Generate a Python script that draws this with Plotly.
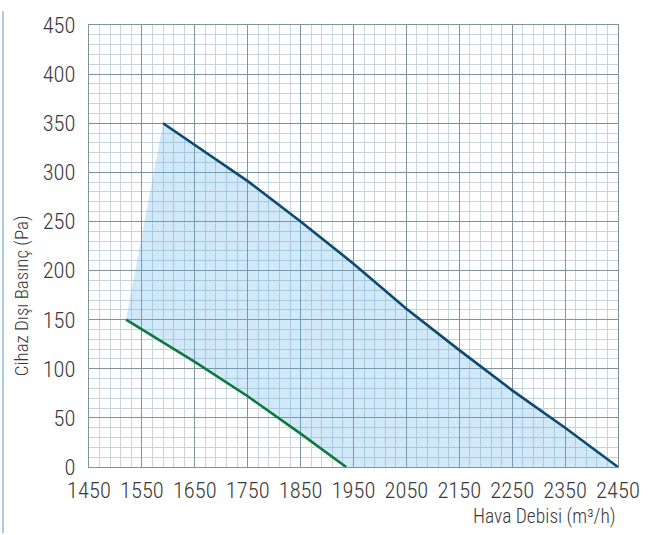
import plotly.graph_objects as go

# Data
upper_x = [1590, 1650, 1750, 1850, 1950, 2050, 2150, 2250, 2350, 2450]
upper_y = [350, 328, 291, 250, 207, 161, 119, 78, 40, 0]
lower_x = [1520, 1650, 1750, 1850, 1936]
lower_y = [150, 107, 72, 34, 0]

x_ticks = [1450, 1550, 1650, 1750, 1850, 1950, 2050, 2150, 2250, 2350, 2450]
y_ticks = [0, 50, 100, 150, 200, 250, 300, 350, 400, 450]

FONT = "Roboto Condensed, Liberation Sans Narrow, sans-serif"
TXT = "#3a3a3a"
MAJOR = "#7d949b"
MINOR = "#c6d4db"

# polygon of operating area built from the two curves
poly_x = lower_x[:1] + upper_x + lower_x[::-1]
poly_y = lower_y[:1] + upper_y + lower_y[::-1]

fig = go.Figure()
fig.add_trace(go.Scatter(
    x=poly_x, y=poly_y, mode="lines", fill="toself",
    fillcolor="rgba(100,180,232,0.30)", line=dict(width=0),
    hoverinfo="skip", showlegend=False))
fig.add_trace(go.Scatter(
    x=upper_x, y=upper_y, mode="lines",
    line=dict(color="#0c4a72", width=2.6), showlegend=False))
fig.add_trace(go.Scatter(
    x=lower_x, y=lower_y, mode="lines",
    line=dict(color="#0b7a3c", width=2.6), showlegend=False))

tickfont = dict(family=FONT, size=22.5, color=TXT, weight=300)

fig.update_layout(
    width=655, height=535,
    margin=dict(l=89, r=37, t=14, b=68),
    paper_bgcolor="white", plot_bgcolor="white",
    font=dict(family=FONT, color=TXT),
    xaxis=dict(
        range=[1450, 2450], tickvals=x_ticks, ticktext=[str(v) for v in x_ticks],
        showgrid=True, gridcolor=MAJOR, gridwidth=1,
        minor=dict(dtick=20, tick0=1450, showgrid=True, gridcolor=MINOR, gridwidth=1),
        showline=True, linecolor=MAJOR, linewidth=1, mirror=True,
        zeroline=False, ticks="", ticklabelstandoff=3,
        tickfont=tickfont,
    ),
    yaxis=dict(
        range=[0, 450], tickvals=y_ticks, ticktext=[str(v) for v in y_ticks],
        showgrid=True, gridcolor=MAJOR, gridwidth=1,
        minor=dict(dtick=10, tick0=0, showgrid=True, gridcolor=MINOR, gridwidth=1),
        showline=True, linecolor=MAJOR, linewidth=1, mirror=True,
        zeroline=False, ticks="", ticklabelstandoff=8,
        tickfont=tickfont,
    ),
    annotations=[
        dict(text="Hava Debisi (m³/h)", xref="paper", yref="paper",
             x=1.0, y=0, xanchor="right", yanchor="top", yshift=-36,
             showarrow=False, font=dict(family=FONT, size=19.5, color=TXT, weight=300)),
        dict(text="Cihaz Dışı Basınç (Pa)", xref="paper", yref="paper",
             x=0, y=(467 - 292) / 453, xanchor="center", yanchor="middle", xshift=-68,
             textangle=-90, showarrow=False,
             font=dict(family=FONT, size=19, color=TXT, weight=300)),
    ],
    shapes=[
        dict(type="line", xref="paper", yref="paper",
             x0=(3 - 89) / 529, x1=(3 - 89) / 529, y0=-68 / 453, y1=1 + 14 / 453,
             line=dict(color="#a9cde2", width=2)),
    ],
)

fig.write_html("out.html")
